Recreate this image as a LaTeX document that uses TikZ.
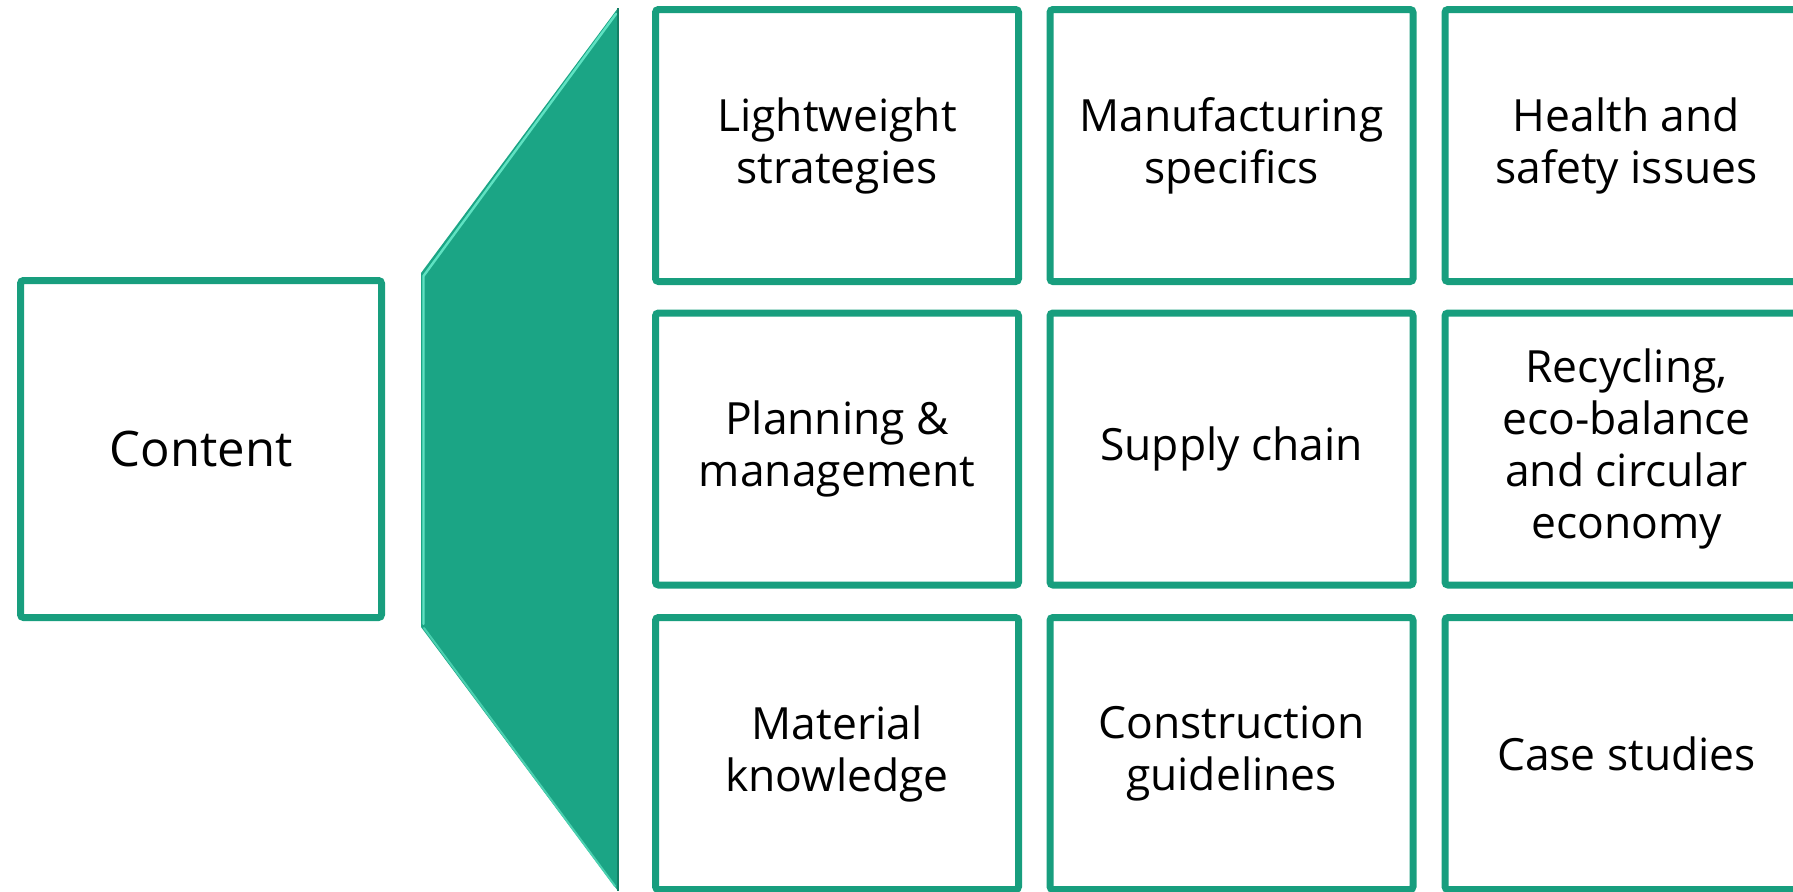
\documentclass[tikz,border=0pt]{standalone}
\usepackage{fontspec}
\setmainfont{Open Sans}
\definecolor{tealfill}{HTML}{1BA585}
\definecolor{tealborder}{HTML}{189E7E}
\definecolor{tealhi}{HTML}{5FE2C2}
\definecolor{tealdark}{HTML}{137F65}
\begin{document}
\begin{tikzpicture}[x=0.5pt,y=-0.5pt,
  box/.style={draw=tealborder,line width=3.5pt,fill=white,rounded corners=1.5pt,
    minimum width=181.5pt,minimum height=136pt,inner sep=0pt,align=center,
    font=\fontsize{22.2}{26}\selectfont}]
\useasboundingbox (0,0) rectangle (1793,891);
\clip (0,0) rectangle (1793,891);
% left box
\node[box,minimum width=180.5pt,minimum height=168.5pt,font=\fontsize{24.5}{29}\selectfont] (content) at (201,449) {Content};
% trapezoid
\fill[tealfill] (421,273) -- (618,8) -- (618,891) -- (421,627) -- cycle;
\draw[tealhi,line width=1.2pt,line cap=round] (423.5,624) -- (423.5,276) -- (616,14);
\draw[tealhi!70!tealfill,line width=1pt,line cap=round] (424,628) -- (615,886);
\draw[tealdark,line width=1pt] (617.5,8) -- (617.5,891);
% grid
\node[box] (light) at (837,145.5) {Lightweight\\strategies};
\node[box] (manu) at (1231.5,145.5) {Manufacturing\\specifics};
\node[box] (health) at (1626.5,145.5) {Health and\\safety issues};
\node[box] (plan) at (837,449) {Planning \&\\management};
\node[box] (supply) at (1231.5,449) {Supply chain};
\node[box] (recyc) at (1626.5,449) {Recycling,\\eco-balance\\and circular\\economy};
\node[box] (mat) at (837,753.5) {Material\\knowledge};
\node[box] (constr) at (1231.5,753.5) {Construction\\guidelines};
\node[box] (case) at (1626.5,753.5) {Case studies};
\end{tikzpicture}
\end{document}
